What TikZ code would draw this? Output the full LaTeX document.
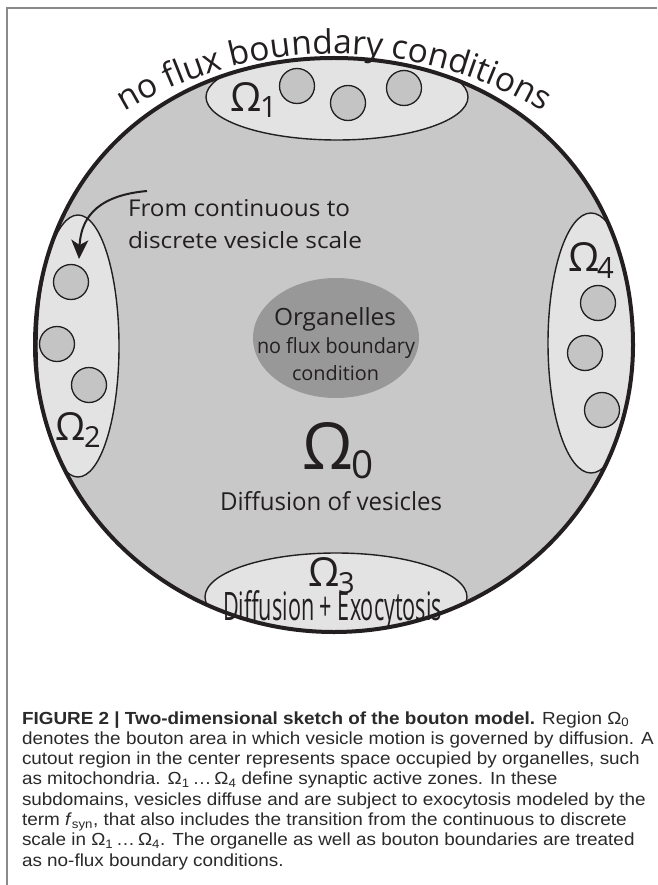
\documentclass[tikz,border=0pt]{standalone}
\usepackage{fontspec}
\usetikzlibrary{decorations.text,arrows.meta}

\newfontfamily\figfont{Open Sans}
\newfontfamily\capfont[FakeStretch=1.08]{Liberation Sans}

\definecolor{ink}{HTML}{231F20}
\definecolor{capink}{HTML}{2A2A2A}
\definecolor{maingray}{HTML}{C8C8C8}
\definecolor{zonegray}{HTML}{E3E3E3}
\definecolor{vesgray}{HTML}{C4C4C4}
\definecolor{orggray}{HTML}{989898}
\definecolor{framec}{HTML}{8A8A8A}

% scale a text box to a given width and height (in pt)
\newcommand\fitto[3]{\resizebox{#1pt}{#2pt}{#3}}
% scale a text box to a given height, keeping its aspect
\newcommand\fith[2]{\resizebox{!}{#1pt}{#2}}

% outline of the bouton (slightly fuller in the upper half)
\def\boutonpath{(35,345) .. controls (35,177.1) and (159.1,58) .. (334,58)
  .. controls (508.9,58) and (633,177.1) .. (633,345)
  .. controls (633,503.5) and (499.1,632) .. (334,632)
  .. controls (168.9,632) and (35,503.5) .. (35,345) -- cycle}

\tikzset{
  lbl/.style={inner sep=0pt, outer sep=0pt, anchor=base west, text=ink, font=\figfont},
  captext/.style={inner sep=0pt, outer sep=0pt, anchor=base west, text=capink,
              font=\capfont\fontsize{17.5}{20.3}\selectfont},
  zone/.style={fill=zonegray, draw=ink, line width=1.4pt},
  vesicle/.style={fill=vesgray, draw=ink, line width=1.3pt},
}

\begin{document}
\begin{tikzpicture}[x=1pt,y=-1pt]
\useasboundingbox (0,0) rectangle (657,885);
\fill[white] (0,0) rectangle (657,885);

% frame
\draw[framec, line width=1.5pt] (7,885) -- (7,8) -- (657,8);

% bouton area
\fill[maingray] \boutonpath;

% active zones, clipped by the bouton boundary
\begin{scope}
  \clip \boutonpath;
  \draw[zone] (337,97)  ellipse [x radius=131, y radius=43];
  \draw[zone] (78,346)  ellipse [x radius=41,  y radius=131];
  \draw[zone] (336,597) ellipse [x radius=131, y radius=44];
  \draw[zone] (591,343) ellipse [x radius=43,  y radius=130];
  % vesicles
  \draw[vesicle] (297,86)  circle [radius=17.5];
  \draw[vesicle] (348,103) circle [radius=17.5];
  \draw[vesicle] (404,88)  circle [radius=17.5];
  \draw[vesicle] (71,282)  circle [radius=17.5];
  \draw[vesicle] (57,344)  circle [radius=17.5];
  \draw[vesicle] (89,385)  circle [radius=17.5];
  \draw[vesicle] (598,303) circle [radius=17.5];
  \draw[vesicle] (585,353) circle [radius=17.5];
  \draw[vesicle] (602,410) circle [radius=17.5];
\end{scope}

% organelle cut-out
\fill[orggray] (336,338) ellipse [x radius=83, y radius=60];

% bouton boundary
\draw[ink, line width=4pt] \boutonpath;

% boundary label along the top (centred on an 80 degree arc)
\coordinate (arcL) at (72.4,149.2);
\coordinate (arcR) at (595.6,149.2);
\path[decorate, decoration={text along path,
    text={|\figfont\fontsize{33.5}{33.5}\selectfont|no flux boundary conditions},
    text align=center, text color=ink}]
  (arcL) .. controls (223.7,22.2) and (444.3,22.2) .. (arcR);

% labels
\node[lbl] (tfrom) at (128,217) {\fitto{222}{17}{From continuous to}};
\node[lbl] (tdisc) at (128,249) {\fitto{234}{17}{discrete vesicle scale}};
\node[lbl] (torg)  at (274,325) {\fitto{122}{18}{Organelles}};
\node[lbl] (tnofl) at (257,353) {\fitto{158}{16}{no flux boundary}};
\node[lbl] (tcond) at (292,380) {\fitto{87}{15}{condition}};
\node[lbl] (om0)   at (302,469) {\fith{47}{Ω}};
\node[lbl] (om0s)  at (351,478) {\fith{28}{0}};
\node[lbl] (tdiff) at (220,510) {\fitto{222}{19}{Diffusion of vesicles}};
\node[lbl] (om1)   at (230,112) {\fith{29}{Ω}};
\node[lbl] (om1s)  at (260,118) {\fith{21}{1}};
\node[lbl] (om2)   at (55,440)  {\fith{28}{Ω}};
\node[lbl] (om2s)  at (84,447)  {\fith{21}{2}};
\node[lbl] (om3)   at (308,586) {\fith{29}{Ω}};
\node[lbl] (om3s)  at (338,593) {\fith{21}{3}};
\node[lbl] (om4)   at (568,271) {\fith{29}{Ω}};
\node[lbl] (om4s)  at (597,278) {\fith{21}{4}};
\node[lbl] (texo)  at (223,620) {\fitto{219}{30}{Diffusion + Exocytosis}};

% arrow from the continuous to the discrete scale
\coordinate (arrS) at (147,191);
\coordinate (arrE) at (79,259);
\draw[ink, line width=2pt, -{Stealth[length=19pt, width=17pt, inset=5pt]}]
  (arrS) .. controls (102,195) and (81,214) .. (arrE);

% caption
\node[captext] (cap1) at (22,724) {\textbf{FIGURE 2 | Two-dimensional sketch of the bouton model.} Region Ω\textsubscript{0}};
\node[captext] (cap2) at (22,744.3) {denotes the bouton area in which vesicle motion is governed by diffusion. A};
\node[captext] (cap3) at (22,764.6) {cutout region in the center represents space occupied by organelles, such};
\node[captext] (cap4) at (22,784.9) {as mitochondria. Ω\textsubscript{1}\,\ldots\,Ω\textsubscript{4} define synaptic active zones. In these};
\node[captext] (cap5) at (22,805.2) {subdomains, vesicles diffuse and are subject to exocytosis modeled by the};
\node[captext] (cap6) at (22,825.5) {term \textit{f}\textsubscript{syn}, that also includes the transition from the continuous to discrete};
\node[captext] (cap7) at (22,845.8) {scale in Ω\textsubscript{1}\,\ldots\,Ω\textsubscript{4}. The organelle as well as bouton boundaries are treated};
\node[captext] (cap8) at (22,866.1) {as no-flux boundary conditions.};
\end{tikzpicture}
\end{document}
